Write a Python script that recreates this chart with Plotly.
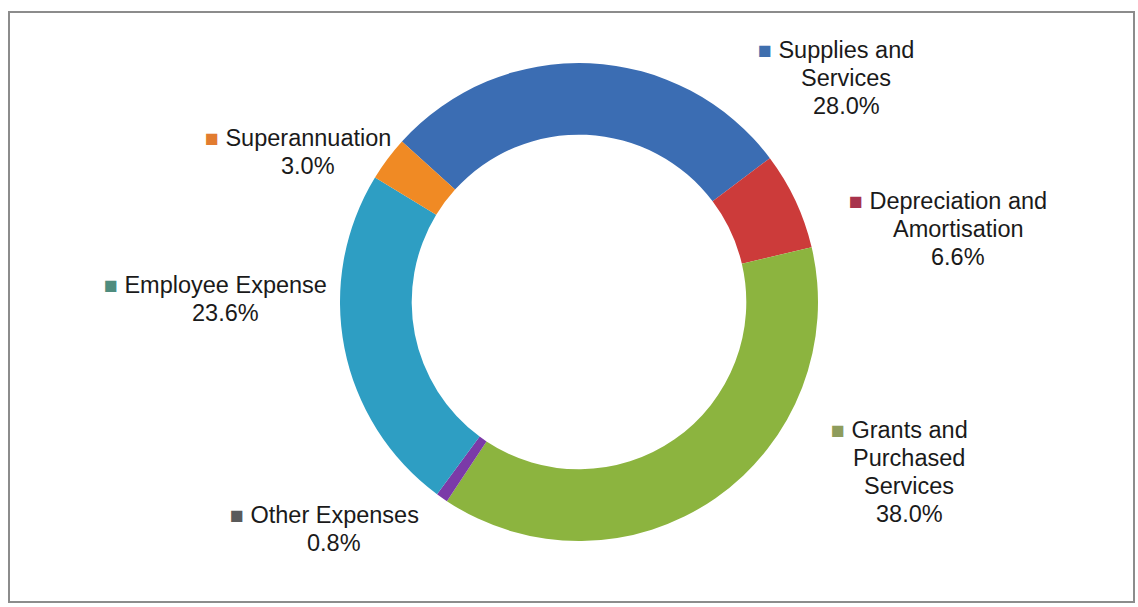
import plotly.graph_objects as go

W, H = 1138, 607

# Expense categories, clockwise from the top-left
categories = ["Supplies and Services", "Depreciation and Amortisation",
              "Grants and Purchased Services", "Other Expenses",
              "Employee Expense", "Superannuation"]
label_lines = [["Supplies and", "Services"],
               ["Depreciation and", "Amortisation"],
               ["Grants and", "Purchased", "Services"],
               ["Other Expenses"],
               ["Employee Expense"],
               ["Superannuation"]]
shares = [28.0, 6.6, 38.0, 0.8, 23.6, 3.0]

slice_colors = ["#3b6db3", "#cc3b3a", "#8cb43f", "#7b3aa8", "#2e9ec3", "#f08a24"]
key_colors = ["#3f6fae", "#a8334c", "#8e9c5c", "#5a5a5a", "#4f8c7e", "#e27c30"]

# label block centres in pixels (x from left, y from top)
label_pos = [(846, 78), (958, 229), (909, 472), (334, 529), (225, 299), (308, 152)]
line_step = 28  # pixel spacing between label lines

cx, cy, r = 579, 302, 239

fig = go.Figure(go.Pie(
    labels=categories,
    values=shares,
    sort=False,
    direction="clockwise",
    rotation=-47.8,
    hole=0.70,
    textinfo="none",
    hoverinfo="label+percent",
    marker=dict(colors=slice_colors, line=dict(width=0)),
    domain=dict(x=[(cx - r) / W, (cx + r) / W],
                y=[(H - cy - r) / H, (H - cy + r) / H]),
    showlegend=False,
))

label_font = dict(family="Liberation Sans, Arial, sans-serif", size=23.5, color="#1a1a1a")

annotations = []
for lines, val, kc, (px, py) in zip(label_lines, shares, key_colors, label_pos):
    key = f"<span style='color:{kc};font-size:23px'>■</span>"
    pad = "<span style='color:rgba(255,255,255,0);font-size:23px'>■</span>"
    rows = [f"{key} {lines[0]} {pad}"] + lines[1:] + [f"{val:.1f}%"]
    n = len(rows)
    for i, row in enumerate(rows):
        y_px = py + (i - (n - 1) / 2) * line_step
        annotations.append(dict(
            x=px / W, y=1 - y_px / H, xref="paper", yref="paper",
            xanchor="center", yanchor="middle", align="center",
            text=row, showarrow=False, font=label_font,
        ))

fig.update_layout(
    width=W, height=H,
    margin=dict(l=0, r=0, t=0, b=0),
    paper_bgcolor="white",
    plot_bgcolor="white",
    annotations=annotations,
    shapes=[dict(type="rect", xref="paper", yref="paper",
                 x0=9 / W, x1=1134 / W, y0=1 - 602 / H, y1=1 - 12 / H,
                 line=dict(color="#8c8c8c", width=2), fillcolor="rgba(0,0,0,0)")],
)

fig.write_html("out.html")
